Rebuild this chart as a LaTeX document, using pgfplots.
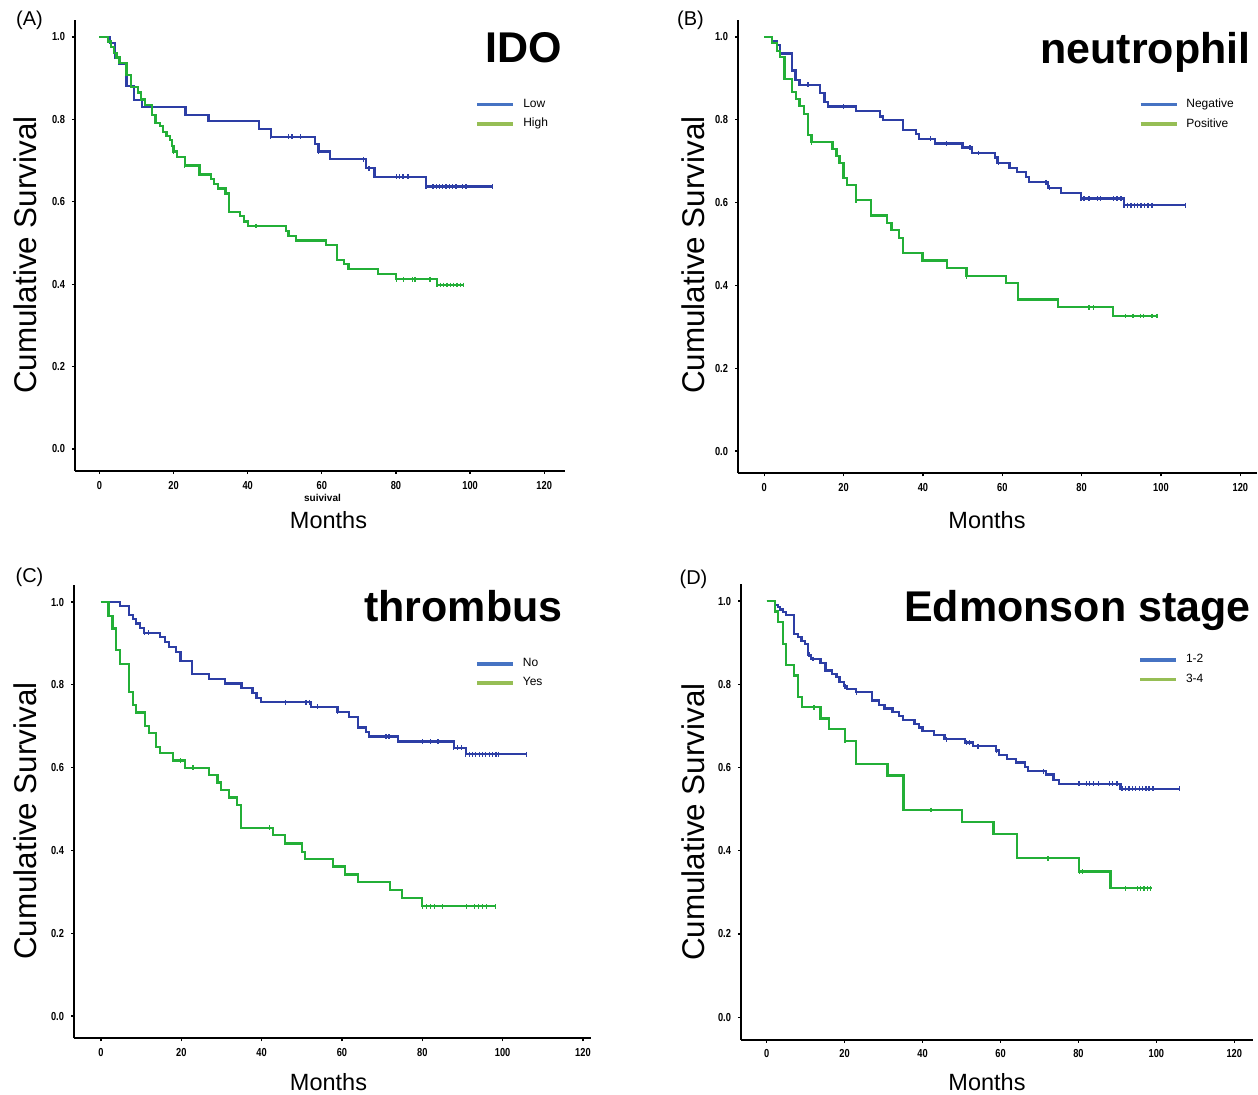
\documentclass[border=0pt]{standalone}
\usepackage{pgfplots}
\pgfplotsset{compat=1.18}
\usepackage{fontspec}
\setmainfont{Liberation Sans}
\newfontfamily\tickfont[FakeStretch=0.8]{Liberation Sans}

\definecolor{kmblue}{RGB}{45,62,165}
\definecolor{kmgreen}{RGB}{35,175,55}
\definecolor{legblue}{RGB}{70,115,195}
\definecolor{leggreen}{RGB}{150,190,85}

\pgfplotsset{
  km/.style={
    scale only axis, anchor=south west,
    axis lines=left, axis line style={-, line width=1pt, black},
    ymin=-0.054, ymax=1.042,
    xtick={0,20,40,60,80,100,120}, ytick={0,0.2,0.4,0.6,0.8,1},
    /pgf/number format/assume math mode=true,
    yticklabel style={/pgf/number format/fixed, /pgf/number format/fixed zerofill,
      /pgf/number format/precision=1},
    tick label style={font=\tickfont\bfseries\fontsize{5.8}{6}\selectfont},
    tick align=outside, major tick length=1.5pt, tick style={black, line width=0.6pt},
    legend image code/.code={\draw[#1, line width=1.8pt] (0pt,0pt) -- (18pt,0pt);},
    legend style={draw=none, fill=none, inner sep=0pt, anchor=west,
      font=\fontsize{6}{7}\selectfont, row sep=0pt,
      /tikz/every odd column/.append style={column sep=2pt}},
    legend cell align=left,
    clip=false,
  },
  curve/.style={const plot, line width=1.1pt, forget plot},
  cens/.style={only marks, mark=|, mark size=1.2pt, mark options={line width=0.7pt}, forget plot},
}

\begin{document}
\begin{tikzpicture}
\useasboundingbox (0,0) rectangle (629pt,-547pt);

% (A) IDO
\begin{axis}[km, at={(37.5pt,-235.6pt)}, width=244.8pt, height=225.8pt,
  xmin=-6.6, xmax=125.5, legend style={at={(axis cs:101.4,0.812)}}]
\addlegendimage{legblue}
\addlegendimage{leggreen}
\addplot[curve, kmblue] coordinates {
  (0,1) (2.8,0.985) (4.3,0.95) (5.2,0.934) (7.3,0.881) (9.4,0.847) (11.4,0.829)
  (23.2,0.811) (29.4,0.795) (43,0.776) (46.2,0.758) (58.2,0.74) (59.1,0.722)
  (62.3,0.703) (72,0.681) (74.2,0.661) (88.1,0.637) (106.1,0.637)};
\addplot[cens, kmblue] coordinates {
  (46.2,0.758) (51,0.758) (52,0.758) (54.2,0.758) (59.1,0.722) (71.3,0.703)
  (72.7,0.681) (80.1,0.661) (81,0.661) (81.9,0.661) (83.2,0.661) (88.1,0.637)
  (90,0.637) (90.9,0.637) (91.7,0.637) (92.6,0.637) (93.5,0.637) (94.4,0.637)
  (95.3,0.637) (96.2,0.637) (98,0.637) (98.9,0.637) (106.1,0.637)};
\addplot[curve, kmgreen] coordinates {
  (0,1) (2.3,0.989) (3.2,0.975) (4,0.96) (4.6,0.95) (5.4,0.937) (7.3,0.908)
  (8.5,0.878) (10.3,0.865) (11.3,0.848) (12.3,0.835) (14.2,0.81) (15.1,0.792)
  (16.3,0.783) (17.2,0.77) (18.1,0.76) (19,0.75) (19.5,0.735) (20,0.722)
  (21,0.709) (23,0.688) (27,0.666) (30,0.655) (31,0.644) (32,0.632) (34,0.62)
  (35,0.575) (38,0.565) (39,0.552) (40,0.541) (50.3,0.529) (51,0.517)
  (53,0.506) (61.1,0.495) (64,0.459) (66,0.449) (67.2,0.436) (75.1,0.425)
  (80.1,0.412) (91.1,0.398) (98.4,0.398)};
\addplot[cens, kmgreen] coordinates {
  (20,0.722) (23,0.688) (42.2,0.541) (80.1,0.412) (82.1,0.412) (84.4,0.412)
  (85.1,0.412) (89.2,0.412) (91.1,0.398) (92,0.398) (92.9,0.398) (93.8,0.398)
  (94.7,0.398) (95.6,0.398) (96.5,0.398) (97.4,0.398) (98.3,0.398)};
\legend{Low, High}
\node[anchor=base east, font=\bfseries\fontsize{21.5}{24}\selectfont, inner sep=0pt]
  at (axis cs:124.8,0.937) {IDO};
\end{axis}

% (B) neutrophil
\begin{axis}[km, at={(369pt,-236.7pt)}, width=259.5pt, height=226.9pt,
  xmin=-6.6, xmax=124.2, legend style={at={(axis cs:94.3,0.813)}}]
\addlegendimage{legblue}
\addlegendimage{leggreen}
\addplot[curve, kmblue] coordinates {
  (0,1) (2,0.991) (3.2,0.981) (4,0.96) (7.1,0.919) (7.9,0.897) (8.9,0.885)
  (14,0.865) (15.2,0.843) (16.1,0.832) (23.1,0.822) (29.1,0.808) (30,0.8)
  (35,0.776) (38.2,0.766) (39,0.754) (43,0.743) (50,0.733) (52.3,0.72)
  (58.2,0.709) (58.8,0.696) (61.8,0.684) (63.8,0.673) (66,0.661) (66.8,0.649)
  (71.6,0.636) (74.7,0.624) (79.8,0.61) (90.6,0.594) (106.2,0.594)};
\addplot[cens, kmblue] coordinates {
  (11,0.885) (20,0.832) (41.9,0.754) (46,0.743) (51.9,0.733) (54,0.72)
  (59,0.696) (71,0.649) (71.9,0.636) (79.8,0.61) (80.6,0.61) (81.9,0.61)
  (84,0.61) (84.8,0.61) (88.1,0.61) (88.9,0.61) (89.9,0.61) (90.7,0.594)
  (91.6,0.594) (92.4,0.594) (93.3,0.594) (94.1,0.594) (95,0.594) (95.8,0.594)
  (96.7,0.594) (97.7,0.594) (106.2,0.594)};
\addplot[curve, kmgreen] coordinates {
  (0,1) (2,0.985) (3.2,0.967) (4,0.951) (5.1,0.899) (7.1,0.867) (8.1,0.851)
  (8.9,0.833) (10,0.814) (11,0.764) (11.9,0.746) (17.2,0.73) (18.2,0.712)
  (19,0.696) (20,0.659) (20.9,0.642) (23.1,0.606) (27,0.569) (31,0.551)
  (32.1,0.533) (34,0.514) (35,0.478) (39.9,0.46) (46.1,0.442) (51,0.422)
  (61,0.405) (63.9,0.366) (74,0.347) (87.9,0.326) (99,0.326)};
\addplot[cens, kmgreen] coordinates {
  (11.9,0.746) (23.1,0.606) (51,0.422) (81.9,0.347) (83,0.347) (91,0.326)
  (92.9,0.326) (94.8,0.326) (95.6,0.326) (97.7,0.326) (99,0.326)};
\legend{Negative, Positive}
\node[anchor=base east, font=\bfseries\fontsize{21.5}{24}\selectfont, inner sep=0pt]
  at (axis cs:122.7,0.937) {neutrophil};
\end{axis}

% (C) thrombus
\begin{axis}[km, at={(37pt,-519.2pt)}, width=258.5pt, height=226.9pt,
  xmin=-6.7, xmax=122, legend style={at={(axis cs:93.1,0.827)}}]
\addlegendimage{legblue}
\addlegendimage{leggreen}
\addplot[curve, kmblue] coordinates {
  (0,1) (4.8,0.991) (6.9,0.969) (7.9,0.959) (8.8,0.948) (9.8,0.938)
  (10.7,0.926) (14.8,0.915) (15.9,0.903) (16.9,0.892) (18.75,0.88)
  (19.8,0.858) (22.75,0.826) (26.9,0.814) (30.9,0.803) (35,0.792)
  (37.75,0.781) (38.75,0.769) (39.8,0.758) (52.3,0.747) (58.9,0.735)
  (61.8,0.723) (63.9,0.697) (66,0.687) (66.8,0.675) (73.9,0.663)
  (87.8,0.648) (90.8,0.632) (106,0.632)};
\addplot[cens, kmblue] coordinates {
  (10.9,0.926) (11.9,0.926) (45.9,0.758) (51.1,0.758) (51.9,0.758)
  (53.9,0.747) (58.9,0.735) (71,0.675) (71.7,0.675) (80,0.663) (82,0.663)
  (83.9,0.663) (87.8,0.648) (88.7,0.648) (89.7,0.648) (90.8,0.632)
  (91.7,0.632) (92.5,0.632) (93.3,0.632) (94.2,0.632) (95,0.632)
  (95.8,0.632) (96.7,0.632) (97.5,0.632) (98.3,0.632) (98.9,0.632) (106,0.632)};
\addplot[curve, kmgreen] coordinates {
  (0,1) (1.9,0.967) (2.9,0.936) (3.8,0.884) (4.8,0.85) (6.9,0.783)
  (7.9,0.751) (8.8,0.733) (10.9,0.7) (11.9,0.684) (13.8,0.65) (14.8,0.635)
  (17.9,0.617) (20.9,0.6) (26.9,0.582) (29,0.564) (29.8,0.546) (31.9,0.528)
  (33.8,0.51) (34.8,0.455) (42.75,0.437) (45.9,0.417) (50.1,0.397)
  (50.9,0.379) (57.8,0.361) (60.8,0.342) (63.9,0.323) (72,0.304) (75,0.285)
  (80,0.265) (98.2,0.265)};
\addplot[cens, kmgreen] coordinates {
  (19.8,0.617) (22.9,0.6) (41.9,0.455) (80,0.265) (81,0.265) (82,0.265)
  (83,0.265) (85,0.265) (91,0.265) (93,0.265) (94,0.265) (95,0.265)
  (96,0.265) (98.2,0.265)};
\legend{No, Yes}
\node[anchor=base east, font=\bfseries\fontsize{21.5}{24}\selectfont, inner sep=0pt]
  at (axis cs:115,0.952) {thrombus};
\end{axis}

% (D) Edmonson stage
\begin{axis}[km, at={(370.5pt,-519.8pt)}, width=256pt, height=228pt,
  xmin=-6.6, xmax=124.8, legend style={at={(axis cs:95.3,0.835)}}]
\addlegendimage{legblue}
\addlegendimage{leggreen}
\addplot[curve, kmblue] coordinates {
  (0,1) (2.2,0.991) (2.9,0.986) (3.5,0.98) (4.1,0.973) (5,0.966) (7,0.921)
  (8.1,0.913) (8.9,0.905) (9.8,0.896) (10.6,0.871) (11.3,0.861) (13.8,0.851)
  (15.1,0.833) (16.8,0.825) (17.9,0.817) (18.7,0.805) (19.8,0.795)
  (20.7,0.789) (22.9,0.781) (27.1,0.761) (28.9,0.75) (30.2,0.742)
  (32.3,0.734) (34,0.723) (34.9,0.715) (37.9,0.704) (39,0.696) (40,0.688)
  (43,0.678) (45.6,0.668) (50.8,0.66) (52.9,0.651) (58.8,0.641) (59.6,0.631)
  (61.6,0.621) (63.9,0.612) (66.2,0.602) (67,0.591) (71.6,0.583) (73.6,0.57)
  (75.1,0.561) (90.8,0.549) (106,0.549)};
\addplot[cens, kmblue] coordinates {
  (10.8,0.871) (11.9,0.861) (20.1,0.795) (23,0.781) (46.1,0.668) (51.2,0.66)
  (52.1,0.66) (54.2,0.651) (59,0.641) (71,0.591) (80.1,0.561) (82,0.561)
  (82.9,0.561) (83.9,0.561) (85.1,0.561) (88,0.561) (88.8,0.561) (89.9,0.561)
  (91.2,0.549) (92.1,0.549) (93,0.549) (93.8,0.549) (94.7,0.549) (95.6,0.549)
  (96.4,0.549) (97.3,0.549) (98.1,0.549) (99.1,0.549) (106,0.549)};
\addplot[curve, kmgreen] coordinates {
  (0,1) (2.1,0.975) (2.9,0.949) (4.1,0.897) (5,0.847) (7,0.821) (8.1,0.769)
  (9.1,0.745) (13.8,0.718) (16,0.692) (20.1,0.664) (23,0.608) (31,0.581)
  (35.1,0.498) (50.2,0.469) (58.2,0.44) (64.2,0.382) (80.2,0.35) (88.2,0.31)
  (98.8,0.31)};
\addplot[cens, kmgreen] coordinates {
  (12.1,0.745) (20.1,0.664) (42.2,0.498) (72.2,0.382) (80.2,0.35) (81,0.35)
  (92.1,0.31) (95.1,0.31) (96,0.31) (96.8,0.31) (97.7,0.31) (98.5,0.31)};
\legend{1-2, 3-4}
\node[anchor=base east, font=\bfseries\fontsize{21.5}{24}\selectfont, inner sep=0pt]
  at (axis cs:124.3,0.95) {Edmonson stage};
\end{axis}

% panel letters and axis titles
\node[font=\fontsize{10}{12}\selectfont] at (14.75pt,-10pt) {(A)};
\node[font=\fontsize{10}{12}\selectfont] at (345.25pt,-10pt) {(B)};
\node[font=\fontsize{10}{12}\selectfont] at (14.75pt,-288.5pt) {(C)};
\node[font=\fontsize{10}{12}\selectfont] at (346.75pt,-289.5pt) {(D)};
\node[rotate=90, font=\fontsize{15.7}{18}\selectfont] at (12.5pt,-127.5pt) {Cumulative Survival};
\node[rotate=90, font=\fontsize{15.7}{18}\selectfont] at (346.75pt,-127.5pt) {Cumulative Survival};
\node[rotate=90, font=\fontsize{15.7}{18}\selectfont] at (12.5pt,-410.5pt) {Cumulative Survival};
\node[rotate=90, font=\fontsize{15.7}{18}\selectfont] at (346.75pt,-411pt) {Cumulative Survival};
\node[font=\fontsize{11.75}{14}\selectfont] at (164.25pt,-260pt) {Months};
\node[font=\fontsize{11.75}{14}\selectfont] at (493.5pt,-260pt) {Months};
\node[font=\fontsize{11.75}{14}\selectfont] at (164.25pt,-541pt) {Months};
\node[font=\fontsize{11.75}{14}\selectfont] at (493.5pt,-541pt) {Months};
\node[font=\bfseries\fontsize{5}{6}\selectfont] at (161.25pt,-249pt) {suivival};
\end{tikzpicture}
\end{document}
